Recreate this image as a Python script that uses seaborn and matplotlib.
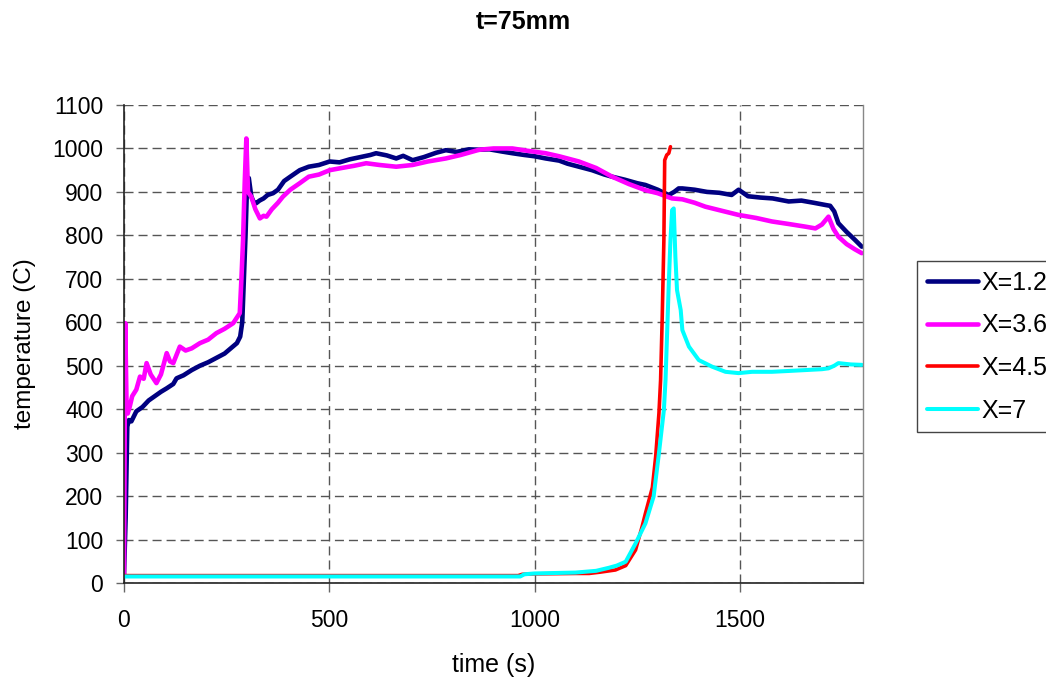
import matplotlib
matplotlib.use("Agg")
import matplotlib.pyplot as plt
import seaborn as sns
import pandas as pd

# ---- data ----
series_names = ["X=1.2", "X=3.6", "X=4.5", "X=7"]
series_colors = ["#000080", "#FF00FF", "#FF0000", "#00FFFF"]

t_x12 = [0, 4, 8, 12, 18, 30, 45, 60, 75, 90, 104, 120, 128, 145, 165, 185, 205, 225,
         245, 260, 275, 283, 288, 292, 296, 300, 304, 310, 316, 322, 330, 340, 350, 363,
         375, 390, 405, 428, 450, 475, 501, 525, 550, 575, 600, 614, 640, 663, 680, 703,
         730, 760, 784, 810, 840, 865, 890, 920, 946, 975, 1000, 1027, 1060, 1080, 1108,
         1140, 1170, 1189, 1220, 1250, 1270, 1300, 1315, 1327, 1340, 1351, 1360, 1390,
         1420, 1450, 1480, 1497, 1520, 1550, 1580, 1619, 1650, 1680, 1708, 1720, 1730,
         1740, 1760, 1780, 1797]
T_x12 = [20, 150, 360, 375, 372, 395, 405, 420, 430, 440, 448, 458, 471, 478, 490, 500,
         508, 518, 528, 540, 552, 567, 600, 700, 800, 925, 932, 890, 876, 874, 880, 885,
         893, 897, 905, 925, 935, 950, 958, 962, 970, 968, 975, 980, 985, 989, 984, 977,
         983, 973, 980, 990, 996, 992, 998, 997, 998, 993, 989, 985, 982, 977, 972, 965,
         958, 950, 940, 935, 928, 920, 916, 905, 898, 893, 900, 908, 908, 905, 900, 898,
         893, 905, 890, 887, 885, 878, 880, 875, 870, 868, 855, 828, 808, 790, 774]

t_x36 = [0, 3, 6, 9, 14, 20, 30, 39, 48, 55, 65, 79, 90, 104, 112, 120, 136, 150, 165,
         185, 205, 225, 245, 266, 282, 286, 290, 294, 298, 302, 310, 320, 331, 340, 347,
         360, 375, 387, 405, 428, 450, 475, 501, 530, 560, 590, 622, 663, 703, 740, 784,
         820, 865, 900, 946, 980, 1027, 1060, 1108, 1150, 1189, 1230, 1270, 1300, 1320,
         1335, 1360, 1390, 1416, 1450, 1497, 1540, 1578, 1620, 1660, 1684, 1700, 1716,
         1728, 1740, 1760, 1780, 1797]
T_x36 = [20, 598, 420, 390, 406, 430, 445, 475, 470, 506, 480, 460, 480, 529, 510, 506,
         544, 535, 540, 552, 560, 575, 585, 598, 621, 700, 789, 920, 1023, 900, 889, 860,
         839, 845, 843, 860, 875, 889, 905, 920, 935, 940, 950, 955, 960, 966, 962, 958,
         962, 970, 977, 985, 997, 1000, 1000, 995, 989, 982, 970, 955, 935, 918, 904, 897,
         890, 885, 883, 875, 866, 858, 847, 840, 832, 826, 820, 816, 825, 843, 815, 797,
         780, 768, 759]

t_x45 = [0, 200, 400, 600, 800, 960, 970, 1000, 1100, 1133, 1160, 1197, 1222, 1246,
         1262, 1270, 1287, 1295, 1303, 1307, 1311, 1315, 1317, 1322, 1327, 1331]
T_x45 = [17, 17, 17, 17, 17, 17, 20, 21, 22, 22, 25, 30, 40, 76, 130, 160, 220, 291,
         391, 467, 613, 789, 973, 985, 989, 1004]

t_x7 = [0, 200, 400, 600, 800, 965, 975, 1000, 1100, 1150, 1181, 1200, 1222, 1246, 1270,
        1290, 1303, 1315, 1319, 1327, 1331, 1335, 1339, 1343, 1347, 1356, 1360, 1376,
        1400, 1432, 1465, 1497, 1530, 1578, 1620, 1660, 1700, 1716, 1730, 1740, 1770, 1797]
T_x7 = [15, 15, 15, 15, 15, 15, 20, 22, 24, 28, 35, 40, 49, 91, 137, 199, 299, 398, 467,
        690, 789, 858, 862, 751, 674, 628, 582, 544, 513, 498, 486, 483, 486, 486, 488,
        490, 492, 494, 500, 506, 503, 502]

x_ticks = [0, 500, 1000, 1500]
y_ticks = [0, 100, 200, 300, 400, 500, 600, 700, 800, 900, 1000, 1100]

frames = []
for name, tt, vv in zip(series_names, [t_x12, t_x36, t_x45, t_x7],
                        [T_x12, T_x36, T_x45, T_x7]):
    frames.append(pd.DataFrame({"time": tt, "temp": vv, "series": name}))
df = pd.concat(frames, ignore_index=True)

# ---- style ----
sns.set_style("white")
plt.rcParams["font.family"] = ["Liberation Sans", "DejaVu Sans"]
plt.rcParams["text.color"] = "black"
plt.rcParams["axes.labelcolor"] = "black"

fig = plt.figure(figsize=(10.46, 6.81), dpi=100)
ax = fig.add_axes([124 / 1046, 1 - 583 / 681, 739 / 1046, 478 / 681])

widths = {"X=1.2": 3.3, "X=3.6": 3.3, "X=4.5": 2.6, "X=7": 2.9}
for name, col in zip(series_names, series_colors):
    sub = df[df["series"] == name]
    sns.lineplot(data=sub, x="time", y="temp", color=col, lw=widths[name],
                 estimator=None, sort=False, ax=ax, label=name)

ax.set_xlim(0, 1800)
ax.set_ylim(0, 1100)
ax.set_xticks(x_ticks)
ax.set_yticks(y_ticks)

grid_dash = (0, (6.5, 3.6))
ax.grid(True, color="#555555", linestyle=grid_dash, linewidth=1.0)
ax.set_axisbelow(True)

for side in ["left", "bottom"]:
    ax.spines[side].set_color("#222222")
    ax.spines[side].set_linewidth(1.2)
ax.spines["right"].set_color("#888888")
ax.spines["right"].set_linewidth(1.0)
ax.spines["top"].set_visible(False)

ax.tick_params(axis="y", direction="out", length=6, width=1, color="#666666",
               labelcolor="black", pad=9, labelsize=16.5, left=True)
ax.tick_params(axis="x", direction="out", length=6.5, width=1, color="#666666",
               labelcolor="black", pad=12, labelsize=16.5, bottom=True)

ax.set_xlabel("time (s)", fontsize=18, color="black")
ax.set_ylabel("temperature (C)", fontsize=17.5, color="black")
ax.xaxis.set_label_coords(0.5, (583 - 653) / 478)
ax.yaxis.set_label_coords((36 - 124) / 739, 0.5)

fig.text(0.5, 1 - 22 / 681, "t=75mm", ha="center", va="center",
         fontsize=18, fontweight="bold", color="black")

handles, labels = ax.get_legend_handles_labels()
if ax.get_legend():
    ax.get_legend().remove()
leg = fig.legend(handles, labels, loc="upper left",
                 bbox_to_anchor=(917 / 1046, 1 - 261 / 681),
                 bbox_transform=fig.transFigure, borderaxespad=0,
                 fontsize=18, frameon=True, fancybox=False, shadow=False,
                 edgecolor="#444444", framealpha=1, handlelength=2.05,
                 handletextpad=0.16, labelspacing=0.75, borderpad=0.38)
leg.get_frame().set_linewidth(1.0)
for txt in leg.get_texts():
    txt.set_color("black")

fig.savefig("out.png", dpi=100)
